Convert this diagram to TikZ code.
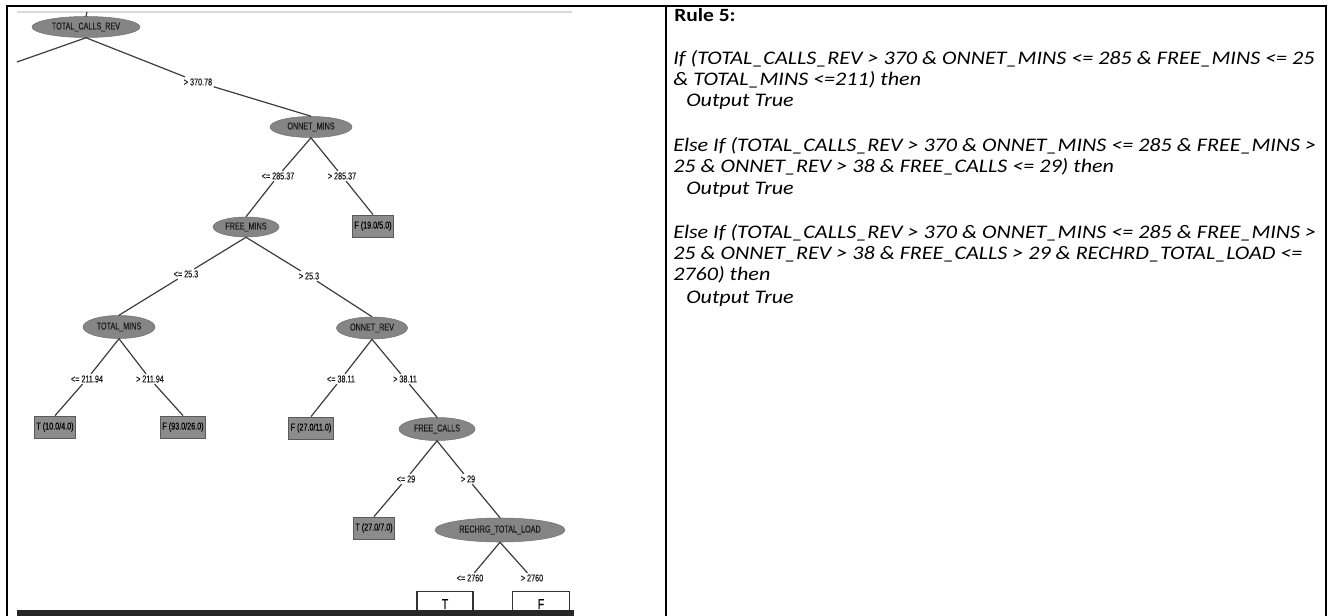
\documentclass[tikz,border=0pt]{standalone}
\usepackage{fontspec}
\setmainfont{Carlito}
\newfontfamily\rulefont[FakeStretch=1.15]{Carlito}
\newfontfamily\treefont[FakeStretch=0.72,FakeBold=0.35]{Liberation Sans}
\usetikzlibrary{shapes.geometric}
\def\pxu{0.75pt}
\definecolor{ellfill}{HTML}{858585}
\definecolor{leaffill}{HTML}{8C8C8C}
\definecolor{leafdraw}{HTML}{5A5A5A}
\definecolor{edgecol}{HTML}{3C3C3C}
\definecolor{treetext}{HTML}{1A1A1A}
\begin{document}
\begin{tikzpicture}[x=0.75pt,y=-0.75pt,
  ell/.style={ellipse, fill=ellfill, draw=ellfill!85!black, line width=0.4pt, inner sep=0pt,
    font=\treefont\fontsize{7.5}{8}\selectfont, text=treetext},
  leaf/.style={rectangle, fill=leaffill, draw=leafdraw, line width=0.6pt, inner xsep=1.5pt, inner ysep=0pt,
    minimum height=22*\pxu, font=\treefont\fontsize{7.5}{8}\selectfont, text=black},
  outbox/.style={rectangle, fill=white, draw=black!80, line width=1pt, inner sep=0pt,
    minimum height=25*\pxu, font=\treefont\fontsize{11}{12}\selectfont},
  lbl/.style={inner sep=1pt, font=\treefont\fontsize{7.5}{8}\selectfont, text=treetext},
  edge/.style={draw=edgecol, line width=0.9pt},
  rule/.style={anchor=base west, inner sep=0pt, font=\rulefont\fontsize{14.4}{17}\selectfont\itshape},
]
\useasboundingbox (0,0) rectangle (1333,616);
% screenshot frame remnants
\draw[line width=1.5pt, color=black!15] (17,12) -- (572,12);

% tree nodes
\node[ell, minimum width=108*\pxu, minimum height=21*\pxu] (root) at (86,27) {TOTAL\_CALLS\_REV};
\coordinate (cutL) at (17,62);
\coordinate (cutT) at (87,12);
\node[lbl] (l1) at (198,82) {> 370.78};
\node[ell, minimum width=82*\pxu, minimum height=21*\pxu] (onm) at (311,127) {ONNET\_MINS};
\node[lbl] (l2) at (278,176) {<= 285.37};
\node[lbl] (l3) at (342,176) {> 285.37};
\node[leaf] (leaf1) at (373,226) {F (19.0/5.0)};
\node[ell, minimum width=66*\pxu, minimum height=20*\pxu] (fmin) at (246,227) {FREE\_MINS};
\node[lbl] (l4) at (186,274) {<= 25.3};
\node[lbl] (l5) at (309,276) {> 25.3};
\node[ell, minimum width=72*\pxu, minimum height=23*\pxu] (tmin) at (119,327) {TOTAL\_MINS};
\node[lbl] (l6) at (87,379) {<= 211.94};
\node[lbl] (l7) at (150,379) {> 211.94};
\node[leaf] (leaf2) at (55,427) {T (10.0/4.0)};
\node[leaf] (leaf3) at (183,427) {F (93.0/26.0)};
\node[ell, minimum width=71*\pxu, minimum height=22*\pxu] (orev) at (372,328) {ONNET\_REV};
\node[lbl] (l8) at (341,379) {<= 38.11};
\node[lbl] (l9) at (405,379) {> 38.11};
\node[leaf] (leaf4) at (311,428) {F (27.0/11.0)};
\node[ell, minimum width=76*\pxu, minimum height=23*\pxu] (fcal) at (437,429) {FREE\_CALLS};
\node[lbl] (l10) at (406,479) {<= 29};
\node[lbl] (l11) at (468,479) {> 29};
\node[leaf] (leaf5) at (374,528) {T (27.0/7.0)};
\node[ell, minimum width=130*\pxu, minimum height=24*\pxu] (rech) at (500,530) {RECHRG\_TOTAL\_LOAD};
\node[lbl] (l12) at (470,578) {<= 2760};
\node[lbl] (l13) at (532,578) {> 2760};
\node[outbox, minimum width=56*\pxu, anchor=north] (leafT) at (445,591) {T};
\node[outbox, minimum width=57*\pxu, anchor=north] (leafF) at (541,591) {F};

% connectors
\draw[edge] (root.north) -- (cutT);
\draw[edge] (root.south) -- (cutL);
\draw[edge] (root.south) -- (l1);
\draw[edge] (l1) -- (onm.north);
\draw[edge] (onm.south) -- (l2);
\draw[edge] (l2) -- (fmin.north);
\draw[edge] (onm.south) -- (l3);
\draw[edge] (l3) -- (leaf1.north);
\draw[edge] (fmin.south) -- (l4);
\draw[edge] (l4) -- (tmin.north);
\draw[edge] (fmin.south) -- (l5);
\draw[edge] (l5) -- (orev.north);
\draw[edge] (tmin.south) -- (l6);
\draw[edge] (l6) -- (leaf2.north);
\draw[edge] (tmin.south) -- (l7);
\draw[edge] (l7) -- (leaf3.north);
\draw[edge] (orev.south) -- (l8);
\draw[edge] (l8) -- (leaf4.north);
\draw[edge] (orev.south) -- (l9);
\draw[edge] (l9) -- (fcal.north);
\draw[edge] (fcal.south) -- (l10);
\draw[edge] (l10) -- (leaf5.north);
\draw[edge] (fcal.south) -- (l11);
\draw[edge] (l11) -- (rech.north);
\draw[edge] (rech.south) -- (l12);
\draw[edge] (rech.south) -- (l13);

% bottom band of the screenshot
\fill[color=black!85] (17,610) rectangle (574,616);

% outer table frame
\draw[line width=1.5pt, line join=miter] (7,616) -- (7,6) -- (1326,6) -- (1326,616);
\draw[line width=1.5pt] (666,6) -- (666,616);

% rule text
\node[rule, font=\rulefont\fontsize{14}{17}\selectfont\bfseries] (t0) at (674,22) {Rule 5:};
\node[rule] (t1) at (673,65) {If (TOTAL\_CALLS\_REV > 370 \& ONNET\_MINS <= 285 \& FREE\_MINS <= 25};
\node[rule] (t2) at (673,86) {\& TOTAL\_MINS <=211) then};
\node[rule] (t3) at (686,107) {Output True};
\node[rule] (t4) at (673,152) {Else If (TOTAL\_CALLS\_REV > 370 \& ONNET\_MINS <= 285 \& FREE\_MINS >};
\node[rule] (t5) at (673,173) {25 \& ONNET\_REV > 38 \& FREE\_CALLS <= 29) then};
\node[rule] (t6) at (686,195) {Output True};
\node[rule] (t7) at (673,239) {Else If (TOTAL\_CALLS\_REV > 370 \& ONNET\_MINS <= 285 \& FREE\_MINS >};
\node[rule] (t8) at (673,260) {25 \& ONNET\_REV > 38 \& FREE\_CALLS > 29 \& RECHRD\_TOTAL\_LOAD <=};
\node[rule] (t9) at (673,281) {2760) then};
\node[rule] (t10) at (686,303) {Output True};
\end{tikzpicture}
\end{document}
